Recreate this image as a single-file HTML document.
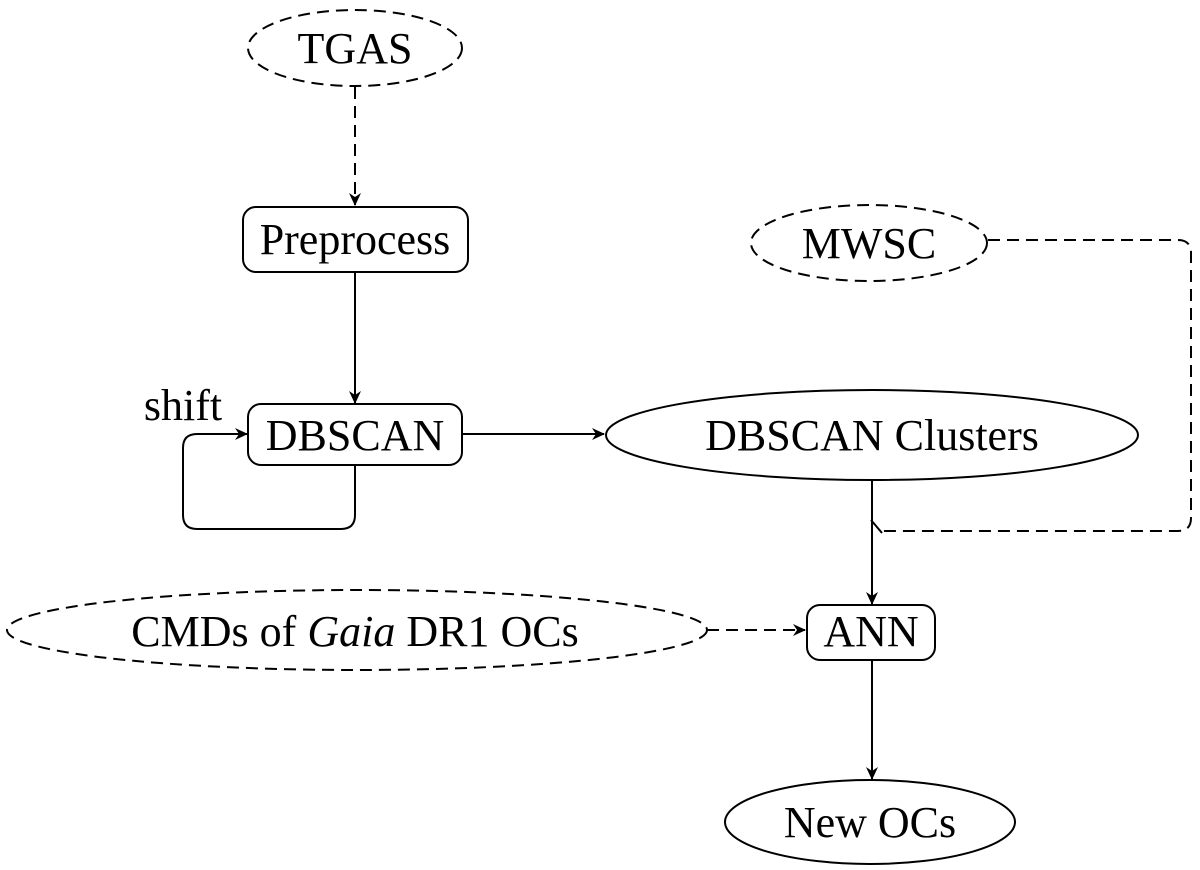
<!DOCTYPE html>
<html><head><meta charset="utf-8"><style>
html,body{margin:0;padding:0;background:#fff;}
svg{display:block;}
text{font-family:"Liberation Serif",serif;font-size:44px;fill:#000;}
</style></head><body>
<svg width="1200" height="870" viewBox="0 0 1200 870" xmlns="http://www.w3.org/2000/svg">
<defs>
<marker id="a" markerWidth="14" markerHeight="12" refX="12" refY="6" orient="auto" markerUnits="userSpaceOnUse">
<path d="M0,0 L13,6 L0,12 L4,6 Z" fill="#000"/>
</marker>
</defs>
<g fill="none" stroke="#000" stroke-width="2">
<!-- TGAS -->
<ellipse cx="355" cy="48" rx="107" ry="38" stroke-dasharray="12,7"/>
<line x1="355" y1="87" x2="355" y2="205" stroke-dasharray="12,7" marker-end="url(#a)"/>
<rect x="243" y="207" width="225" height="65" rx="13"/>
<line x1="355" y1="272" x2="355" y2="403" marker-end="url(#a)"/>
<rect x="248" y="404" width="214" height="61" rx="13"/>
<path d="M355,465 V515 Q355,529 341,529 H197 Q183,529 183,515 V448 Q183,434 197,434 H247" marker-end="url(#a)"/>
<line x1="462" y1="434" x2="604" y2="434" marker-end="url(#a)"/>
<ellipse cx="872" cy="435" rx="266" ry="45"/>
<!-- MWSC -->
<ellipse cx="869" cy="243" rx="118" ry="38" stroke-dasharray="12,7"/>
<path d="M988,240 H1178 Q1191,240 1191,253 V518 Q1191,531 1178,531 H880" stroke-dasharray="12,7"/>
<path d="M882,533 L871,520" />
<line x1="872" y1="480" x2="872" y2="604" marker-end="url(#a)"/>
<rect x="807" y="605" width="128" height="55" rx="13"/>
<!-- CMDs -->
<ellipse cx="357" cy="630" rx="350" ry="40" stroke-dasharray="12,7"/>
<line x1="707" y1="630" x2="805" y2="630" stroke-dasharray="12,7" marker-end="url(#a)"/>
<line x1="872" y1="660" x2="872" y2="779" marker-end="url(#a)"/>
<ellipse cx="870" cy="822" rx="145" ry="42"/>
</g>
<text x="355" y="63" text-anchor="middle">TGAS</text>
<text x="355" y="254" text-anchor="middle">Preprocess</text>
<text x="355" y="450" text-anchor="middle">DBSCAN</text>
<text x="183" y="420" text-anchor="middle">shift</text>
<text x="872" y="450" text-anchor="middle">DBSCAN Clusters</text>
<text x="869" y="258" text-anchor="middle">MWSC</text>
<text x="871" y="646" text-anchor="middle">ANN</text>
<text x="355" y="646" text-anchor="middle">CMDs of <tspan font-style="italic">Gaia</tspan> DR1 OCs</text>
<text x="870" y="837" text-anchor="middle">New OCs</text>
</svg>
</body></html>
